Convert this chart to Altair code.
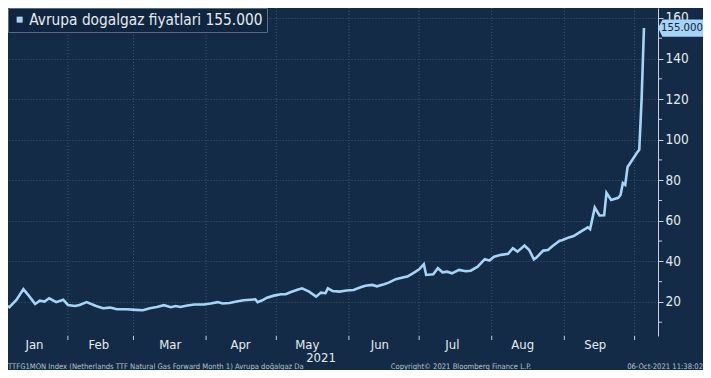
import altair as alt
import pandas as pd

# ---- data ----
dates = [
    "2021-01-03", "2021-01-05", "2021-01-07", "2021-01-10", "2021-01-13", "2021-01-15",
    "2021-01-17", "2021-01-18", "2021-01-20", "2021-01-22", "2021-01-24", "2021-01-27",
    "2021-01-30", "2021-02-01", "2021-02-04", "2021-02-06", "2021-02-09", "2021-02-13",
    "2021-02-16", "2021-02-19", "2021-02-22", "2021-02-26", "2021-03-02", "2021-03-05",
    "2021-03-08", "2021-03-11", "2021-03-14", "2021-03-17", "2021-03-19", "2021-03-21",
    "2021-03-24", "2021-03-27", "2021-03-31", "2021-04-03", "2021-04-06", "2021-04-08",
    "2021-04-11", "2021-04-14", "2021-04-17", "2021-04-20", "2021-04-22", "2021-04-23",
    "2021-04-25", "2021-04-27", "2021-04-30", "2021-05-03", "2021-05-05", "2021-05-07",
    "2021-05-10", "2021-05-12", "2021-05-15", "2021-05-18", "2021-05-20", "2021-05-22",
    "2021-05-23", "2021-05-25", "2021-05-28", "2021-05-31", "2021-06-03", "2021-06-06",
    "2021-06-08", "2021-06-11", "2021-06-13", "2021-06-16", "2021-06-18", "2021-06-21",
    "2021-06-24", "2021-06-26", "2021-06-29", "2021-07-01", "2021-07-03", "2021-07-04",
    "2021-07-07", "2021-07-09", "2021-07-11", "2021-07-13", "2021-07-15", "2021-07-18",
    "2021-07-21", "2021-07-23", "2021-07-26", "2021-07-29", "2021-07-31", "2021-08-02",
    "2021-08-05", "2021-08-08", "2021-08-10", "2021-08-12", "2021-08-15", "2021-08-17",
    "2021-08-19", "2021-08-20", "2021-08-23", "2021-08-25", "2021-08-27", "2021-08-30",
    "2021-08-31", "2021-09-03", "2021-09-05", "2021-09-08", "2021-09-11", "2021-09-12",
    "2021-09-14", "2021-09-16", "2021-09-18", "2021-09-19", "2021-09-21", "2021-09-24",
    "2021-09-25", "2021-09-26", "2021-09-27", "2021-09-28", "2021-09-30", "2021-10-02",
    "2021-10-03", "2021-10-04", "2021-10-05",
]
values = [
    19.4, 18.5, 17.4, 21.0, 26.3, 23.5,
    20.5, 19.0, 20.6, 20.2, 21.8, 19.9,
    21.1, 18.5, 18.0, 18.5, 19.9, 18.0,
    16.9, 17.2, 16.4, 16.4, 16.1, 15.9,
    16.9, 17.5, 18.4, 17.4, 18.0, 17.5,
    18.2, 18.7, 18.7, 19.2, 19.9, 19.2,
    19.5, 20.2, 20.8, 21.1, 21.3, 19.9,
    20.8, 22.1, 23.1, 23.8, 23.8, 24.8,
    26.0, 26.7, 25.1, 22.6, 24.6, 24.3,
    26.7, 25.4, 25.1, 25.6, 25.9, 27.2,
    28.0, 28.4, 27.7, 28.7, 29.5, 31.2,
    32.0, 32.5, 34.6, 36.1, 38.6, 33.3,
    33.6, 36.6, 34.6, 34.9, 34.1, 35.8,
    35.1, 35.4, 37.4, 41.1, 40.4, 42.3,
    43.2, 43.7, 46.5, 44.8, 47.8, 45.6,
    41.0, 41.8, 45.3, 45.6, 47.6, 50.2,
    50.4, 51.8, 52.5, 54.7, 56.8, 55.9,
    66.5, 62.6, 62.7, 73.8, 70.3, 71.3,
    72.7, 78.6, 77.7, 86.5, 90.0, 93.5,
    95.0, 120.0, 155.0,
]
series_name = "Avrupa dogalgaz fiyatlari 155.000"
last_value = 155.0
month_starts = ["2021-02-01", "2021-03-01", "2021-04-01", "2021-05-01", "2021-06-01",
                "2021-07-01", "2021-08-01", "2021-09-01", "2021-10-01"]
year_label = "2021"
y_major = [20, 40, 60, 80, 100, 120, 140, 160]
y_minor = [10, 30, 50, 70, 90, 110, 130, 150]
footer_left = "TTFG1MON Index (Netherlands TTF Natural Gas Forward Month 1) Avrupa doğalgaz  Da"
footer_mid = "Copyright\u00a9 2021 Bloomberg Finance L.P."
footer_right = "06-Oct-2021 11:38:02"

# ---- styling ----
BG = "#132b47"
LINE = "#a6d4f7"
GRID = "#3b5775"
TXT = "#e6ebf0"
AXIS = "#c9d0d8"
FONT = "DejaVu Sans Condensed, DejaVu Sans, sans-serif"
W, H = 650, 328          # plot area
PAD_R, PAD_B = 45, 34    # whole chart = 695 x 362, fits the window with the page margin

df = pd.DataFrame({"date": pd.to_datetime(dates), "value": values, "series": series_name})
ms_df = pd.DataFrame({"date": pd.to_datetime(month_starts)})
minor_df = pd.DataFrame({"value": y_minor})

xscale = alt.Scale(domain=[alt.DateTime(year=2021, month=1, date=6, hours=10),
                           alt.DateTime(year=2021, month=10, date=11)])
yscale = alt.Scale(domain=[3.2, 164.9], nice=False, zero=False)

label_dates = [
    alt.DateTime(year=2021, month=1, date=17, hours=12),
    alt.DateTime(year=2021, month=2, date=14),
    alt.DateTime(year=2021, month=3, date=16, hours=12),
    alt.DateTime(year=2021, month=4, date=15, hours=12),
    alt.DateTime(year=2021, month=5, date=14),
    alt.DateTime(year=2021, month=6, date=14),
    alt.DateTime(year=2021, month=7, date=15),
    alt.DateTime(year=2021, month=8, date=14),
    alt.DateTime(year=2021, month=9, date=14),
]

x_axis = alt.Axis(values=label_dates, format="%b", title=None, grid=False, ticks=False,
                  domain=False, labelColor=TXT, labelFontSize=13, labelFont=FONT,
                  labelPadding=2, labelOverlap=False, labelFlush=False)
y_axis = alt.Axis(orient="right", values=y_major, title=None,
                  labelOverlap=False, labelFlush=False,
                  grid=True, gridColor=GRID, gridDash=[1, 2], gridWidth=1,
                  domainColor=AXIS, domainWidth=1, tickColor=AXIS, tickSize=5,
                  labelColor=TXT, labelFontSize=13.5, labelFont=FONT, labelPadding=2)

line = alt.Chart(df).mark_line(strokeWidth=2.6, clip=True).encode(
    x=alt.X("date:T", scale=xscale, axis=x_axis),
    y=alt.Y("value:Q", scale=yscale, axis=y_axis),
    color=alt.Color("series:N",
                    scale=alt.Scale(domain=[series_name], range=[LINE]),
                    legend=alt.Legend(title=None, orient="none", legendX=0, legendY=0,
                                      fillColor="#102640", strokeColor="#5b6b7d",
                                      padding=4, symbolType="square", symbolSize=36,
                                      symbolFillColor=LINE, symbolStrokeColor=LINE,
                                      symbolStrokeWidth=0, labelColor=TXT, labelFont=FONT,
                                      labelFontSize=15.3, labelOffset=2, labelLimit=0,
                                      cornerRadius=0)),
)

grid_x = alt.Chart(ms_df).mark_rule(color=GRID, strokeDash=[1, 2], strokeWidth=1).encode(
    x=alt.X("date:T", scale=xscale, axis=x_axis)
)
ticks_x = alt.Chart(ms_df).mark_rule(color=AXIS, strokeWidth=1).encode(
    x=alt.X("date:T", scale=xscale, axis=x_axis), y=alt.value(H), y2=alt.value(H + 4)
)
minor_ticks = alt.Chart(minor_df).mark_rule(color=AXIS, strokeWidth=1).encode(
    y=alt.Y("value:Q", scale=yscale, axis=y_axis), x=alt.value(W), x2=alt.value(W + 4)
)

badge_df = pd.DataFrame({"value": [last_value]})
badge_shape = "M-1,0 L-0.8,-0.38 L1,-0.38 L1,0.38 L-0.8,0.38 Z"
badge = alt.Chart(badge_df).mark_point(shape=badge_shape, size=2025, filled=True,
                                        color=LINE, opacity=1, strokeWidth=0).encode(
    x=alt.value(W + PAD_R / 2), y=alt.Y("value:Q", scale=yscale, axis=y_axis)
)
badge_text = alt.Chart(badge_df).mark_text(font=FONT, fontSize=11.3, color="#0b1f38",
                                           align="center", baseline="middle").encode(
    x=alt.value(674), y=alt.Y("value:Q", scale=yscale, axis=y_axis),
    text=alt.Text("value:Q", format=".3f")
)

year_text = alt.Chart(pd.DataFrame({"t": [year_label]})).mark_text(
    font=FONT, fontSize=13, color=TXT, align="center", baseline="middle").encode(
    x=alt.value(313), y=alt.value(350), text="t:N")

foot_style = dict(font=FONT, fontSize=7.6, color="#b9c2cc", baseline="middle")
foot1 = alt.Chart(pd.DataFrame({"t": [footer_left]})).mark_text(align="left", **foot_style).encode(
    x=alt.value(0), y=alt.value(359), text="t:N")
foot2 = alt.Chart(pd.DataFrame({"t": [footer_mid]})).mark_text(align="center", **foot_style).encode(
    x=alt.value(453), y=alt.value(359), text="t:N")
foot3 = alt.Chart(pd.DataFrame({"t": [footer_right]})).mark_text(align="right", **foot_style).encode(
    x=alt.value(W + PAD_R), y=alt.value(359), text="t:N")

chart = alt.layer(grid_x, ticks_x, minor_ticks, line, badge, badge_text, year_text,
                  foot1, foot2, foot3).properties(
    width=W, height=H,
    background=BG,
    padding={"left": 0, "top": 0, "right": PAD_R, "bottom": PAD_B},
    autosize=alt.AutoSizeParams(type="none"),
).configure_view(strokeWidth=0)

chart.save("out.html", embed_options={"renderer": "svg", "actions": False})
